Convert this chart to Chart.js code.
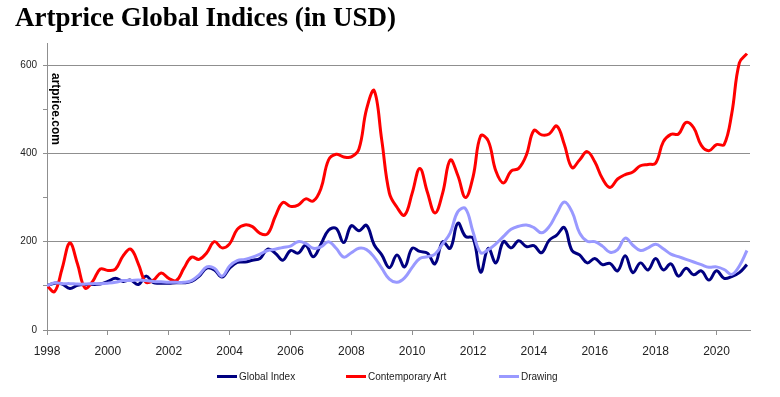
<!DOCTYPE html>
<html>
<head>
<meta charset="utf-8">
<script src="https://cdn.jsdelivr.net/npm/chart.js@4"></script>
<style>
  body { margin: 0; background: #fff; }
  #wrap { position: relative; width: 780px; height: 397px; }
  #title {
    position: absolute; left: 15px; top: 2px;
    font: bold 27px "Liberation Serif", "Times New Roman", serif;
    color: #000; white-space: nowrap;
  }
  .leg { position: absolute; top: 370px; height: 14px; font: 10px "Liberation Sans", Arial, sans-serif; color: #222; }
  .leg i { position: absolute; left: 0; top: 5px; width: 20px; height: 3px; }
  .leg span { position: absolute; left: 22px; top: 0; line-height: 14px; white-space: nowrap; }
</style>
</head>
<body>
<div id="wrap">
  <canvas id="chart" width="780" height="397"></canvas>
  <div id="title">Artprice Global Indices (in USD)</div>
  <div id="legend"></div>
</div>
<script>
// quarterly values, first point = Q1 1998 (base 100)
const startYear = 1998;

const globalIndex = [
  100, 106, 104, 94, 101, 103, 103, 104,
  110, 117, 110, 113, 103, 122, 107, 106,
  106, 107, 107, 110, 122, 140, 136, 120,
  140, 153, 154, 158, 162, 183, 174, 158,
  180, 174, 192, 166, 194, 226, 230, 198,
  236, 225, 237, 193, 170, 141, 170, 143,
  185, 178, 174, 150, 200, 185, 242, 212,
  208, 131, 185, 152, 200, 186, 202, 189,
  191, 175, 203, 215, 232, 180, 170, 152,
  162, 148, 151, 134, 168, 130, 152, 136,
  162, 136, 150, 122, 140, 125, 134, 113,
  134, 117, 121, 130, 148
];

const contemporaryArt = [
  100, 87, 140, 197, 150, 95, 110, 138,
  135, 138, 168, 183, 150, 108, 113, 129,
  117, 112, 140, 165, 160, 175, 200, 186,
  195, 228, 238, 234, 219, 218, 257, 289,
  280, 283, 297, 292, 320, 385, 398, 392,
  392, 410, 500, 542, 430, 310, 278, 260,
  310, 366, 312, 265, 310, 385, 350, 300,
  347, 440, 428, 360, 333, 360, 366, 396,
  452, 442, 444, 462, 420, 368, 385, 404,
  381, 343, 323, 342, 352, 358, 372, 375,
  378, 426, 443, 444, 470, 458, 418, 406,
  420, 420, 490, 605, 626
];

const drawing = [
  100, 107, 105, 105, 104, 104, 105, 105,
  106, 108, 112, 112, 113, 112, 110, 109,
  108, 108, 108, 112, 125, 143, 140, 122,
  145, 157, 160, 165, 172, 180, 183, 187,
  190, 200, 196, 185, 188, 200, 185, 165,
  175, 185, 182, 165, 140, 115, 108, 118,
  142, 162, 166, 172, 195, 220, 268, 275,
  222, 175, 182, 195, 212, 228, 235, 238,
  232, 220, 234, 264, 290, 268, 220, 201,
  200, 190, 176, 182, 208, 192, 180, 186,
  194, 184, 172, 166, 160, 154, 148, 142,
  143, 137, 126, 145, 180
];

const seriesNames = ['Global Index', 'Contemporary Art', 'Drawing'];
const seriesColors = ['#000080', '#ff0000', '#9999ff'];
const xTicks = [1998, 2000, 2002, 2004, 2006, 2008, 2010, 2012, 2014, 2016, 2018, 2020];
const yTicks = [0, 100, 200, 300, 400, 500, 600];
const yLabels = [0, 200, 400, 600];

function toPoints(values) {
  return values.map((v, i) => ({ x: startYear + i / 4, y: v }));
}

const GRID = '#8f8f8f';

const watermark = {
  id: 'watermark',
  afterDraw(chart) {
    const ctx = chart.ctx;
    ctx.save();
    ctx.translate(52, 73);
    ctx.rotate(Math.PI / 2);
    ctx.font = 'bold 12px "Liberation Sans", Arial, sans-serif';
    ctx.fillStyle = '#000';
    ctx.textBaseline = 'alphabetic';
    ctx.fillText('artprice.com', 0, 0);
    ctx.restore();
  }
};

new Chart(document.getElementById('chart'), {
  type: 'line',
  data: {
    datasets: [globalIndex, contemporaryArt, drawing].map((vals, k) => ({
      label: seriesNames[k],
      data: toPoints(vals),
      borderColor: seriesColors[k],
      backgroundColor: seriesColors[k],
      borderWidth: 3,
      pointRadius: 0,
      tension: 0.4,
      fill: false
    })).reverse()
  },
  options: {
    responsive: false,
    animation: false,
    layout: { padding: { left: 0, top: 43, right: 30, bottom: 37 } },
    plugins: { legend: { display: false }, tooltip: { enabled: false } },
    scales: {
      x: {
        type: 'linear',
        min: 1998,
        max: 2021.1,
        afterBuildTicks: s => { s.ticks = xTicks.map(v => ({ value: v })); },
        afterFit: s => { s.height = 30; },
        ticks: {
          callback: v => String(v),
          color: '#222',
          font: { family: '"Liberation Sans", Arial, sans-serif', size: 12 },
          padding: 9,
          maxRotation: 0,
          autoSkip: false
        },
        grid: { drawOnChartArea: false, drawTicks: true, tickLength: 5, tickColor: GRID },
        border: { color: GRID, width: 1 }
      },
      y: {
        min: 0,
        max: 650,
        afterBuildTicks: s => { s.ticks = yTicks.map(v => ({ value: v })); },
        afterFit: s => { s.width = 47; },
        ticks: {
          callback: v => (yLabels.includes(v) ? String(v) : ''),
          color: '#222',
          font: { family: '"Liberation Sans", Arial, sans-serif', size: 10 },
          padding: 6
        },
        grid: {
          color: c => (c.tick && c.tick.value > 0 && yLabels.includes(c.tick.value) ? GRID : 'rgba(0,0,0,0)'),
          tickColor: GRID,
          tickLength: 4,
          lineWidth: 1
        },
        border: { color: GRID, width: 1 }
      }
    }
  },
  plugins: [watermark]
});

// legend
const legendX = [217, 346, 499];
const legend = document.getElementById('legend');
seriesNames.forEach((name, k) => {
  const d = document.createElement('div');
  d.className = 'leg';
  d.style.left = legendX[k] + 'px';
  d.innerHTML = '<i style="background:' + seriesColors[k] + '"></i><span>' + name + '</span>';
  legend.appendChild(d);
});
</script>
</body>
</html>
